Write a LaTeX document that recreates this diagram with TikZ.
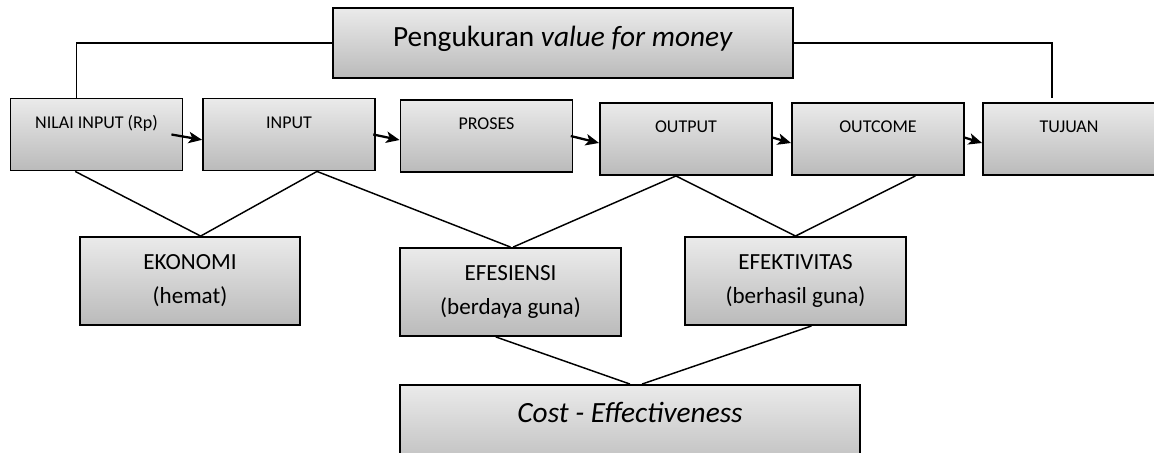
\documentclass[tikz,border=0pt]{standalone}
\usepackage{fontspec}
\setmainfont{Carlito}
\usetikzlibrary{arrows.meta}

\begin{document}
\begin{tikzpicture}[x=0.75pt,y=-0.75pt,
  kotak/.style={draw=black,line width=1.4pt,top color=black!8,bottom color=black!27,inner sep=0pt},
  tahap/.style={kotak,minimum width=129pt,minimum height=54pt,font=\fontsize{13.5}{16}\selectfont,text height=22.3pt,text depth=31.7pt},
  ukuran/.style={kotak,minimum width=165.5pt,minimum height=66pt,align=center,font=\fontsize{17.3}{25.5}\selectfont},
  garis/.style={line width=1.1pt},
  panah/.style={line width=1.7pt,-{Stealth[length=10pt,width=8.5pt,inset=2.5pt]}}]
\useasboundingbox (0,0) rectangle (1154,453);
\clip (0,0) rectangle (1154,453);

\node[kotak,minimum width=345pt,font=\fontsize{22}{26}\selectfont,text height=28.9pt,text depth=23.6pt] (ukur) at (563,43) {Pengukuran \textit{value for money}};

\node[tahap] (nilai) at (96.5,134.5) {NILAI INPUT (Rp)};
\node[tahap] (input) at (289,134.5) {INPUT};
\node[tahap] (proses) at (486.5,136) {PROSES};
\node[tahap] (output) at (686,139) {OUTPUT};
\node[tahap] (outcome) at (878,139) {OUTCOME};
\node[tahap] (tujuan) at (1069,139) {TUJUAN};

\node[ukuran] (ekonomi) at (190,281) {EKONOMI\\(hemat)};
\node[ukuran] (efesiensi) at (510.5,292) {EFESIENSI\\(berdaya guna)};
\node[ukuran] (efektivitas) at (795.5,281) {EFEKTIVITAS\\(berhasil guna)};

\node[kotak,minimum width=345pt,font=\fontsize{22}{26}\selectfont\itshape,text height=27.9pt,text depth=39.6pt] (cost) at (630,430) {Cost - Effectiveness};

\draw[garis] (ukur.west) -| ([xshift=-15pt]nilai.north);
\draw[garis] (ukur.east) -| ([xshift=-12.75pt,yshift=3pt]tujuan.north);

\draw[garis] ([xshift=-16pt]nilai.south) -- ([xshift=8pt]ekonomi.north);
\draw[garis] ([xshift=21pt]input.south) -- ([xshift=8pt]ekonomi.north);
\draw[garis] ([xshift=21pt]input.south) -- (efesiensi.north);
\draw[garis] ([xshift=-7.5pt]output.south) -- ([xshift=2pt]efesiensi.north);
\draw[garis] ([xshift=-7.5pt]output.south) -- (efektivitas.north);
\draw[garis] ([xshift=28pt]outcome.south) -- (efektivitas.north);
\draw[garis] ([xshift=-11pt]efesiensi.south) -- (cost.north);
\draw[garis] ([xshift=12pt]efektivitas.south) -- ([xshift=9pt]cost.north);

\draw[panah] ([xshift=-9pt]nilai.east) -- ([yshift=-4pt]input.west);
\draw[panah] ([xshift=-2pt]input.east) -- ([yshift=-3pt]proses.west);
\draw[panah] ([xshift=-2pt]proses.east) -- ([yshift=-3pt]output.west);
\draw[panah] ([yshift=1pt]output.east) -- ([yshift=-3pt]outcome.west);
\draw[panah] ([yshift=1pt]outcome.east) -- ([yshift=-3pt]tujuan.west);
\end{tikzpicture}
\end{document}
